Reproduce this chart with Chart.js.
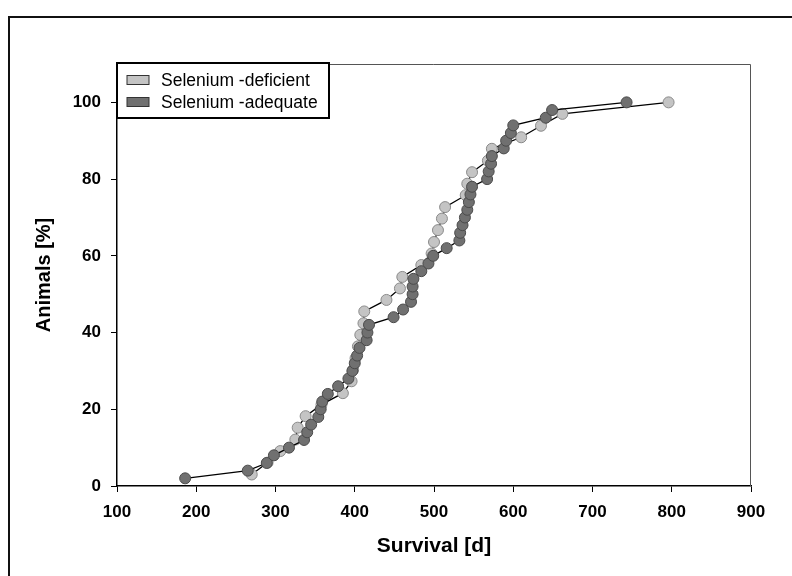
<!DOCTYPE html>
<html>
<head>
<meta charset="utf-8">
<script src="https://cdn.jsdelivr.net/npm/chart.js@4/dist/chart.umd.min.js"></script>
<style>
  html, body { margin: 0; padding: 0; background: #fff; overflow: hidden; }
  #frame { position: absolute; left: 8px; top: 16px; width: 820px; height: 600px; border: 2px solid #111; }
  #chart { position: absolute; left: 0; top: 0; }
</style>
</head>
<body>
<div id="frame"></div>
<canvas id="chart" width="792" height="576"></canvas>
<script>
// Survival (days) vs cumulative animals (%)
const deficientDays = [270, 290, 306, 325, 328, 338, 358, 385, 396, 398, 401, 404, 407, 411, 412,
    440, 457, 460, 484, 497, 500, 505, 510, 514, 540, 542, 548, 568, 573, 610, 635, 662, 796]
const deficientPct = [3.0, 6.1, 9.1, 12.1, 15.2, 18.2, 21.2, 24.2, 27.3, 30.3, 33.3, 36.4, 39.4, 42.4, 45.5,
    48.5, 51.5, 54.5, 57.6, 60.6, 63.6, 66.7, 69.7, 72.7, 75.8, 78.8, 81.8, 84.8, 87.9, 90.9, 93.9, 97.0, 100]

const adequateDays = [186, 265, 289, 298, 317, 336, 340, 345, 354, 357, 359, 366, 379, 392, 397, 400, 403,
    406, 415, 416, 418, 449, 461, 471, 473, 473, 474, 484, 493, 499, 516, 532, 533, 536, 539, 542, 544,
    546, 548, 567, 569, 572, 573, 588, 591, 597, 600, 641, 649, 743]
const adequatePct = [2, 4, 6, 8, 10, 12, 14, 16, 18, 20, 22, 24, 26, 28, 30, 32, 34, 36, 38, 40, 42, 44, 46,
    48, 50, 52, 54, 56, 58, 60, 62, 64, 66, 68, 70, 72, 74, 76, 78, 80, 82, 84, 86, 88, 90, 92, 94, 96,
    98, 100]

const seriesLabels = ['Selenium -deficient', 'Selenium -adequate']
const xTickValues = [100, 200, 300, 400, 500, 600, 700, 800, 900]
const yTickValues = [0, 20, 40, 60, 80, 100]

const LIGHT = '#c4c4c4'
const DARK = '#707070'
const NARROW = "'Liberation Sans Narrow', 'Arial Narrow', 'Liberation Sans', Arial, sans-serif"
const SANS = "'Liberation Sans', Arial, sans-serif"

function toPoints(xs, ys) {
    let pts = []
    xs.forEach(function (x, i) {
        pts.push({x: x, y: ys[i]})
    })
    return pts
}

// Box legend drawn over the top-left of the plot
const boxLegend = {
    id: 'boxLegend',
    afterDraw(chart) {
        const ctx = chart.ctx
        const area = chart.chartArea
        const x0 = area.left, y0 = area.top - 1
        ctx.save()
        ctx.fillStyle = '#fff'
        ctx.fillRect(x0, y0, 212, 55)
        ctx.lineWidth = 2
        ctx.strokeStyle = '#000'
        ctx.strokeRect(x0, y0, 212, 55)
        ctx.font = '17.5px ' + SANS
        ctx.textBaseline = 'middle'
        chart.data.datasets.forEach(function (ds, i) {
            const cy = y0 + 17 + i * 22
            ctx.fillStyle = ds.backgroundColor
            ctx.fillRect(x0 + 10, cy - 4.5, 22, 9)
            ctx.lineWidth = 1
            ctx.strokeStyle = '#333'
            ctx.strokeRect(x0 + 10, cy - 4.5, 22, 9)
            ctx.fillStyle = '#000'
            ctx.fillText(ds.label, x0 + 44, cy + 1)
        })
        ctx.restore()
    }
}

// thin frame on top / right of plot area
const plotFrame = {
    id: 'plotFrame',
    beforeDatasetsDraw(chart) {
        const ctx = chart.ctx
        const a = chart.chartArea
        ctx.save()
        ctx.strokeStyle = '#555'
        ctx.lineWidth = 1
        ctx.beginPath()
        ctx.moveTo(a.left, a.top + 0.5)
        ctx.lineTo(a.right - 0.5, a.top + 0.5)
        ctx.lineTo(a.right - 0.5, a.bottom)
        ctx.stroke()
        ctx.restore()
    }
}

const config = {
    type: 'line',
    data: {
        datasets: [{
            label: seriesLabels[0],
            data: toPoints(deficientDays, deficientPct),
            backgroundColor: LIGHT,
            pointBackgroundColor: LIGHT,
            pointBorderColor: '#8a8a8a',
            borderColor: '#000',
            borderWidth: 1.3,
            pointRadius: 5.5,
            pointBorderWidth: 1,
            order: 2
        },
        {
            label: seriesLabels[1],
            data: toPoints(adequateDays, adequatePct),
            backgroundColor: DARK,
            pointBackgroundColor: DARK,
            pointBorderColor: '#4a4a4a',
            borderColor: '#000',
            borderWidth: 1.3,
            pointRadius: 5.5,
            pointBorderWidth: 1,
            order: 1
        }]
    },
    options: {
        responsive: false,
        animation: false,
        devicePixelRatio: 1,
        layout: {
            padding: {left: 0, top: 64, right: 41, bottom: 0}
        },
        plugins: {
            legend: {display: false},
            tooltip: {enabled: false}
        },
        scales: {
            x: {
                type: 'linear',
                min: 100,
                max: 900,
                afterBuildTicks: function (axis) {
                    axis.ticks = xTickValues.map(v => ({value: v}))
                },
                afterFit: function (axis) { axis.height = 90 },
                grid: {drawOnChartArea: false, drawTicks: true, tickLength: 6, color: '#000', lineWidth: 1},
                border: {display: true, color: '#000', width: 1.5},
                ticks: {
                    color: '#000',
                    padding: 10,
                    maxRotation: 0,
                    font: {family: NARROW, size: 17, weight: 'bold'}
                },
                title: {
                    display: true,
                    text: 'Survival [d]',
                    color: '#000',
                    padding: {top: 0, bottom: 17},
                    font: {family: NARROW, size: 21, weight: 'bold'}
                }
            },
            y: {
                type: 'linear',
                min: 0,
                max: 110,
                afterBuildTicks: function (axis) {
                    axis.ticks = yTickValues.map(v => ({value: v}))
                },
                afterFit: function (axis) { axis.width = 117 },
                grid: {drawOnChartArea: false, drawTicks: true, tickLength: 6, color: '#000', lineWidth: 1},
                border: {display: true, color: '#000', width: 1.5},
                ticks: {
                    color: '#000',
                    padding: 10,
                    font: {family: NARROW, size: 17, weight: 'bold'}
                },
                title: {
                    display: true,
                    text: 'Animals [%]',
                    color: '#000',
                    padding: {top: 32, bottom: 0},
                    font: {family: SANS, size: 20, weight: 'bold'}
                }
            }
        }
    },
    plugins: [plotFrame, boxLegend]
}

new Chart(document.getElementById('chart'), config)
</script>
</body>
</html>
